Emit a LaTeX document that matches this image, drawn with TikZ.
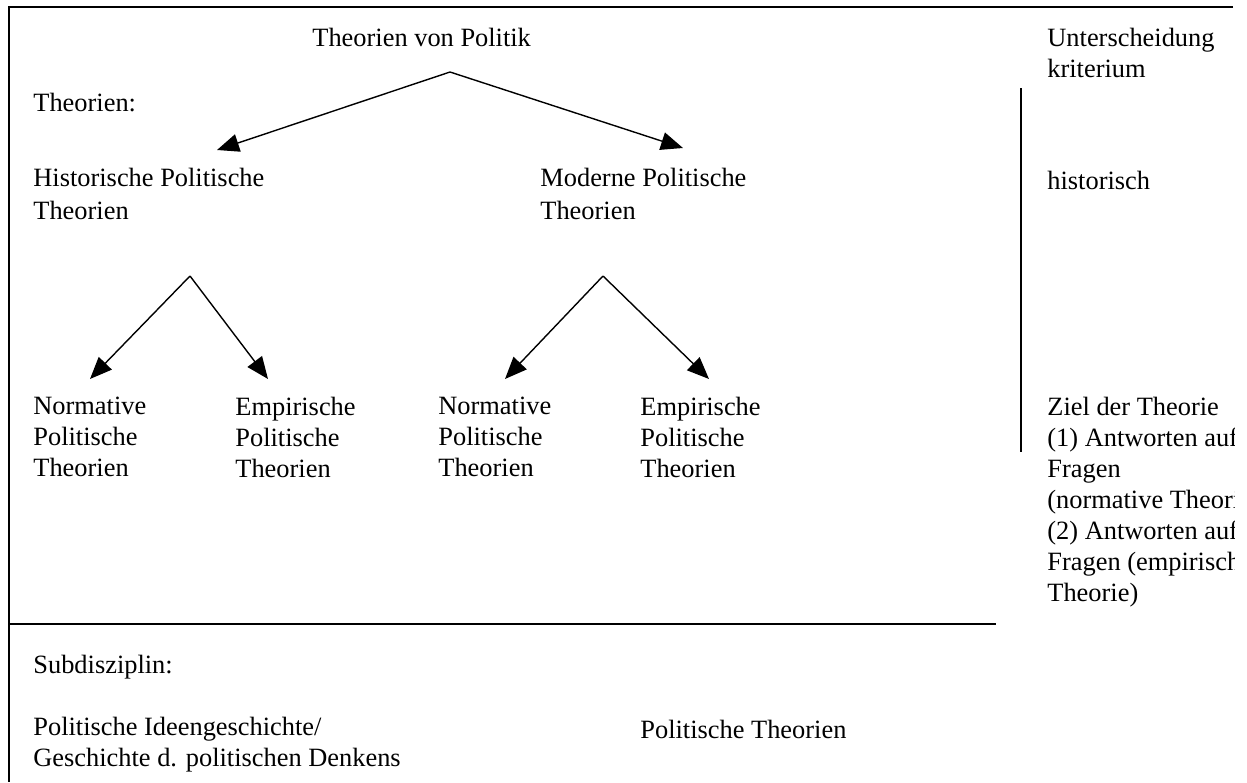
\documentclass[tikz,border=0pt]{standalone}
\usepackage{fontspec}
\setmainfont{Liberation Serif}
\usetikzlibrary{arrows.meta}
\begin{document}
\begin{tikzpicture}[x=0.5pt,y=-0.5pt,
  txt/.style={anchor=north west,yshift=10.85pt,inner sep=0pt,align=left,
    font=\fontsize{13.2pt}{15.5pt}\selectfont,execute at begin node=\strut},
  frame/.style={line width=1pt},
  arr/.style={line width=0.7pt,-{Triangle[length=11pt,width=9pt]}}]
\useasboundingbox (0,0) rectangle (1247,782);
% frame lines
\coordinate (tl) at (9,7);
\coordinate (tr) at (1233,7);
\coordinate (bl) at (9,782);
\coordinate (ml) at (9,624);
\coordinate (mr) at (996,624);
\coordinate (vt) at (1021,88);
\coordinate (vb) at (1021,452);
\draw[frame] (tr) -- (tl) -- (bl);
\draw[frame] (ml) -- (mr);
\draw[frame] (vt) -- (vb);
% texts (positions are first-line baselines)
\node[txt] (title) at (312,46) {Theorien von Politik};
\node[txt] (theo) at (33,111) {Theorien:};
\node[txt,font=\fontsize{13.2pt}{16.5pt}\selectfont] (hist) at (33,189) {Historische Politische\\Theorien};
\node[txt,font=\fontsize{13.2pt}{16.5pt}\selectfont] (mod) at (540,189) {Moderne Politische\\Theorien};
\node[txt] (n1) at (33,418) {Normative\\Politische\\Theorien};
\node[txt] (e1) at (235,418) {Empirische\\Politische\\Theorien};
\node[txt] (n2) at (438,418) {Normative\\Politische\\Theorien};
\node[txt] (e2) at (640,418) {Empirische\\Politische\\Theorien};
\node[txt] (sub) at (33,673) {Subdisziplin:};
\node[txt] (ideen) at (33,738) {Politische Ideengeschichte/\\Geschichte d. politischen Denkens};
\node[txt] (pt) at (640,738) {Politische Theorien};
\begin{scope}
\clip (1000,0) rectangle (1234,782);
\node[txt] (unt) at (1047,49) {Unterscheidung\\kriterium};
\node[txt] (histr) at (1047,189) {historisch};
\node[txt] (ziel) at (1047,418) {Ziel der Theorie\\(1) Antworten auf\\Fragen\\(normative Theorie)\\(2) Antworten auf\\Fragen (empirische\\Theorie)};
\end{scope}
% arrows
\coordinate (a0) at (450,72);
\coordinate (t1) at (217,150);
\coordinate (t2) at (683,148);
\draw[arr] (a0) -- (t1);
\draw[arr] (a0) -- (t2);
\coordinate (a1) at (190,276);
\coordinate (t11) at (90,379);
\coordinate (t12) at (268,379);
\draw[arr] (a1) -- (t11);
\draw[arr] (a1) -- (t12);
\coordinate (a2) at (603,276);
\coordinate (t21) at (505,379);
\coordinate (t22) at (709,379);
\draw[arr] (a2) -- (t21);
\draw[arr] (a2) -- (t22);
\end{tikzpicture}
\end{document}
